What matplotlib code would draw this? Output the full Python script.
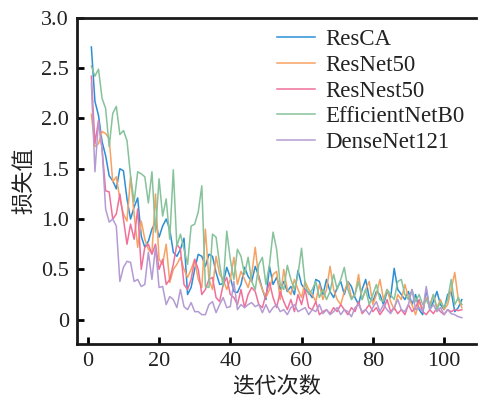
import matplotlib
matplotlib.use('Agg')
import matplotlib.pyplot as plt
import numpy as np

plt.rcParams['font.family'] = ['Liberation Serif', 'Noto Sans CJK SC']
plt.rcParams['text.color'] = '#222222'
plt.rcParams['axes.labelcolor'] = '#222222'
plt.rcParams['xtick.labelcolor'] = '#222222'
plt.rcParams['ytick.labelcolor'] = '#222222'

# 损失值数据 (每个模型 105 次迭代)
epochs = np.arange(1, 106)

resca = [2.71, 2.17, 2.03, 1.77, 1.63, 1.43, 1.38, 1.30, 1.50, 1.48,
         1.20, 1.00, 1.12, 1.21, 0.83, 0.72, 0.78, 0.90, 0.97, 0.82,
         0.93, 1.00, 0.90, 0.67, 0.63, 0.70, 0.81, 0.25, 0.32, 0.50,
         0.65, 0.63, 0.53, 0.65, 0.63, 0.47, 0.35, 0.36, 0.52, 0.42,
         0.28, 0.27, 0.35, 0.52, 0.43, 0.38, 0.53, 0.43, 0.30, 0.20,
         0.53, 0.35, 0.42, 0.30, 0.38, 0.28, 0.33, 0.25, 0.49, 0.35,
         0.30, 0.27, 0.22, 0.40, 0.38, 0.25, 0.40, 0.28, 0.22, 0.32,
         0.38, 0.25, 0.38, 0.33, 0.22, 0.15, 0.30, 0.40, 0.22, 0.18,
         0.28, 0.25, 0.15, 0.28, 0.22, 0.51, 0.30, 0.25, 0.20, 0.28,
         0.15, 0.25, 0.10, 0.05, 0.30, 0.10, 0.18, 0.28, 0.15, 0.10,
         0.25, 0.28, 0.08, 0.12, 0.20]

resnet50 = [2.04, 1.72, 1.75, 1.87, 1.85, 1.80, 1.37, 1.42, 1.20, 1.05,
            0.98, 1.42, 1.05, 0.72, 0.98, 0.80, 0.70, 0.66, 1.25, 0.60,
            0.55, 0.75, 0.37, 0.50, 0.55, 0.62, 0.50, 0.42, 0.50, 0.60,
            0.40, 0.32, 0.90, 0.40, 0.30, 0.63, 0.45, 0.40, 0.30, 0.40,
            0.62, 0.35, 0.48, 0.40, 0.32, 0.45, 0.72, 0.40, 0.30, 0.22,
            0.30, 0.45, 0.48, 0.20, 0.50, 0.30, 0.25, 0.40, 0.30, 0.22,
            0.38, 0.30, 0.25, 0.18, 0.35, 0.20, 0.30, 0.53, 0.30, 0.20,
            0.15, 0.28, 0.38, 0.22, 0.25, 0.45, 0.20, 0.30, 0.38, 0.15,
            0.25, 0.40, 0.20, 0.30, 0.18, 0.10, 0.25, 0.20, 0.35, 0.22,
            0.15, 0.05, 0.18, 0.10, 0.22, 0.15, 0.25, 0.12, 0.20, 0.10,
            0.15, 0.30, 0.47, 0.20, 0.12]

resnest50 = [2.42, 1.75, 1.98, 1.70, 1.28, 1.27, 1.00, 1.05, 1.25, 1.00,
             0.75, 0.95, 0.80, 1.10, 0.50, 0.72, 0.75, 0.65, 0.75, 0.50,
             0.60, 0.35, 0.40, 0.55, 0.75, 0.70, 0.35, 0.30, 0.40, 0.60,
             0.50, 0.25, 0.30, 0.40, 0.42, 0.22, 0.18, 0.35, 0.42, 0.25,
             0.22, 0.15, 0.30, 0.12, 0.25, 0.32, 0.28, 0.15, 0.12, 0.25,
             0.37, 0.22, 0.12, 0.28, 0.18, 0.10, 0.20, 0.08, 0.25, 0.15,
             0.30, 0.12, 0.10, 0.18, 0.05, 0.08, 0.10, 0.06, 0.12, 0.08,
             0.15, 0.10, 0.05, 0.12, 0.08, 0.18, 0.06, 0.10, 0.15, 0.08,
             0.12, 0.05, 0.10, 0.20, 0.08, 0.12, 0.06, 0.10, 0.05, 0.15,
             0.08, 0.12, 0.20, 0.08, 0.05, 0.10, 0.06, 0.12, 0.08, 0.05,
             0.10, 0.08, 0.10, 0.09, 0.10]

efficientnetb0 = [2.52, 2.42, 2.49, 2.20, 2.10, 1.72, 2.05, 2.12, 1.84, 1.88,
                  1.78, 1.43, 1.17, 1.47, 1.45, 1.42, 1.16, 1.47, 0.87, 1.40,
                  1.03, 1.20, 0.80, 1.49, 0.73, 0.85, 0.70, 0.55, 0.93, 0.95,
                  1.07, 1.33, 0.33, 0.32, 0.85, 0.82, 0.55, 0.33, 0.88, 0.60,
                  0.40, 0.70, 0.63, 0.45, 0.62, 0.38, 0.30, 0.55, 0.62, 0.35,
                  0.55, 0.87, 0.70, 0.35, 0.30, 0.54, 0.40, 0.30, 0.45, 0.71,
                  0.35, 0.25, 0.30, 0.38, 0.22, 0.30, 0.20, 0.28, 0.45, 0.30,
                  0.40, 0.52, 0.30, 0.20, 0.25, 0.38, 0.20, 0.30, 0.15, 0.25,
                  0.35, 0.20, 0.18, 0.30, 0.25, 0.20, 0.38, 0.40, 0.25, 0.20,
                  0.30, 0.18, 0.25, 0.15, 0.20, 0.12, 0.25, 0.10, 0.18, 0.12,
                  0.20, 0.40, 0.15, 0.22, 0.15]

densenet121 = [2.35, 1.47, 1.97, 1.70, 1.10, 0.97, 1.00, 0.93, 0.38, 0.52,
               0.58, 0.57, 0.38, 0.40, 0.33, 0.35, 0.67, 0.40, 0.72, 0.32,
               0.33, 0.15, 0.23, 0.20, 0.12, 0.30, 0.13, 0.10, 0.17, 0.08,
               0.08, 0.05, 0.05, 0.15, 0.18, 0.07, 0.15, 0.22, 0.12, 0.13,
               0.38, 0.10, 0.15, 0.12, 0.15, 0.17, 0.13, 0.15, 0.07, 0.15,
               0.07, 0.12, 0.15, 0.08, 0.10, 0.05, 0.12, 0.15, 0.08, 0.10,
               0.12, 0.05, 0.10, 0.08, 0.15, 0.06, 0.10, 0.05, 0.08, 0.12,
               0.05, 0.10, 0.08, 0.03, 0.12, 0.15, 0.08, 0.10, 0.05, 0.12,
               0.18, 0.08, 0.15, 0.10, 0.06, 0.12, 0.20, 0.10, 0.08, 0.15,
               0.30, 0.10, 0.12, 0.08, 0.33, 0.10, 0.15, 0.08, 0.12, 0.05,
               0.10, 0.06, 0.05, 0.03, 0.02]

names = ['ResCA', 'ResNet50', 'ResNest50', 'EfficientNetB0', 'DenseNet121']
series = [resca, resnet50, resnest50, efficientnetb0, densenet121]
colors = ['#2b8fd6', '#f5a263', '#f0709a', '#86c29a', '#b49bd3']

xticks = [0, 20, 40, 60, 80, 100]
yticks = [0, 0.5, 1.0, 1.5, 2.0, 2.5, 3.0]
ytick_labels = ['0', '0.5', '1.0', '1.5', '2.0', '2.5', '3.0']

fig = plt.figure(figsize=(4.79, 4.05), dpi=100)
ax = fig.add_axes([0.161, 0.151, 0.833, 0.805])

# 画每条损失曲线
for vals, name, c in zip(series, names, colors):
    ax.plot(epochs, vals, color=c, lw=1.1, label=name)

ax.set_xlim(-3, 109)
ax.set_ylim(-0.24, 3.0)
ax.set_xticks(xticks)
ax.set_yticks(yticks)
ax.set_yticklabels(ytick_labels)
ax.tick_params(direction='in', width=2, length=5, labelsize=16, pad=6)
for s in ax.spines.values():
    s.set_linewidth(2)
    s.set_color('#1a1a1a')
# 右边框在原图中看不到
ax.spines['right'].set_visible(False)

ax.set_xlabel('迭代次数', fontsize=16, labelpad=4)
ax.set_ylabel('损失值', fontsize=16)

ax.legend(loc='upper right', frameon=False, fontsize=16.5, handlelength=1.66,
          handletextpad=0.44, labelspacing=0.2, borderaxespad=0.1)

plt.savefig('out.png', dpi=100)
